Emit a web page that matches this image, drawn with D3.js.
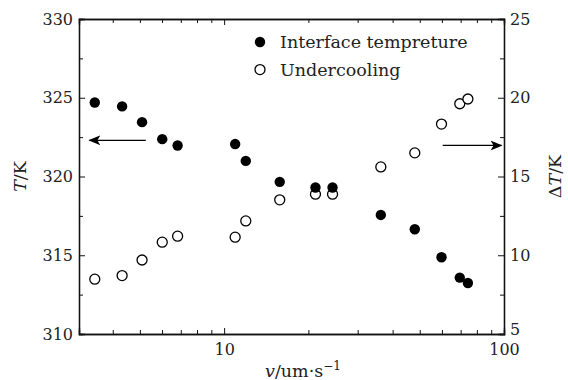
<!DOCTYPE html>
<html>
<head>
<meta charset="utf-8">
<script src="https://cdn.jsdelivr.net/npm/d3@7"></script>
<style>
  body { margin: 0; background: #fff; }
  svg { display: block; }
  .axis path, .axis line { stroke: #111; }
  .axis text { font-family: "DejaVu Serif", serif; font-size: 16px; fill: #222; }
</style>
</head>
<body>
<svg id="chart" width="568" height="380"></svg>
<script>
// velocity v (um/s)
const velocity = [3.45, 4.32, 5.09, 6.01, 6.82, 10.95, 11.95, 15.8, 21.2, 24.4, 36.3, 48.0, 59.8, 69.5, 74.3];
// interface temperature T (K)
const interfaceTemp = [324.70, 324.45, 323.45, 322.37, 321.97, 322.06, 320.99, 319.66, 319.30, 319.30, 317.56, 316.65, 314.87, 313.58, 313.24];
// undercooling ΔT (K)
const undercooling = [8.48, 8.71, 9.70, 10.83, 11.21, 11.15, 12.18, 13.52, 13.88, 13.88, 15.61, 16.50, 18.33, 19.62, 19.92];

const xMajor = [10, 100];
const xMinor = [4, 5, 6, 7, 8, 9, 20, 30, 40, 50, 60, 70, 80, 90];
const tMajor = [310, 315, 320, 325, 330];
const tMinor = [312.5, 317.5, 322.5, 327.5];
const dtMajor = [5, 10, 15, 20, 25];
const dtMinor = [7.5, 12.5, 17.5, 22.5];

const legendItems = ["Interface tempreture", "Undercooling"];

const margin = { top: 19, right: 64, bottom: 46, left: 79 };
const width = 568, height = 380;
const svg = d3.select("#chart");
const font = '"DejaVu Serif", serif';
const fs = 16;    // tick labels
const fsT = 17.5; // titles and legend

const x = d3.scaleLog().domain([3.03, 100]).range([margin.left, width - margin.right]);
const yT = d3.scaleLinear().domain([310, 330]).range([height - margin.bottom, margin.top]);
const yD = d3.scaleLinear().domain([5, 25]).range([height - margin.bottom, margin.top]);

const bottom = height - margin.bottom, right = width - margin.right;

// axes, ticks pointing inward
const addAxis = (axis, transform) =>
  svg.append("g").attr("class", "axis").attr("transform", transform).call(axis);

addAxis(d3.axisBottom(x).tickValues(xMajor).tickSize(-6).tickPadding(10).tickFormat(d3.format("d")), `translate(0,${bottom})`);
addAxis(d3.axisBottom(x).tickValues(xMinor).tickSize(-4).tickFormat(""), `translate(0,${bottom})`);
addAxis(d3.axisTop(x).tickValues(xMajor).tickSize(-6).tickFormat(""), `translate(0,${margin.top})`);
addAxis(d3.axisTop(x).tickValues(xMinor).tickSize(-4).tickFormat(""), `translate(0,${margin.top})`);
addAxis(d3.axisLeft(yT).tickValues(tMajor).tickSize(-6).tickPadding(6), `translate(${margin.left},0)`);
addAxis(d3.axisLeft(yT).tickValues(tMinor).tickSize(-4).tickFormat(""), `translate(${margin.left},0)`);
const rightAxis = addAxis(d3.axisRight(yD).tickValues(dtMajor).tickSize(-6).tickPadding(6), `translate(${right},0)`);
addAxis(d3.axisRight(yD).tickValues(dtMinor).tickSize(-4).tickFormat(""), `translate(${right},0)`);
svg.selectAll(".axis path").attr("stroke-width", 1.3);
svg.selectAll(".axis text").attr("font-size", fs);
// the bottom "5" sits a little high, clear of the "100"
rightAxis.selectAll(".tick text").filter((d) => d === 5).attr("dy", "0.05em");

// axis titles
const xt = svg.append("text")
  .attr("x", 303).attr("y", 377)
  .attr("text-anchor", "middle")
  .attr("font-family", font).attr("font-size", fsT).attr("fill", "#222");
xt.append("tspan").attr("font-style", "italic").text("v");
xt.append("tspan").text("/um·s");
xt.append("tspan").attr("font-size", 12).attr("dy", -7).text("−1");

const yl = svg.append("text")
  .attr("transform", `translate(26,${(margin.top + bottom) / 2}) rotate(-90)`)
  .attr("text-anchor", "middle")
  .attr("font-family", font).attr("font-size", fsT).attr("fill", "#222");
yl.append("tspan").attr("font-style", "italic").text("T");
yl.append("tspan").text("/K");

const yr = svg.append("text")
  .attr("transform", `translate(561,${(margin.top + bottom) / 2}) rotate(-90)`)
  .attr("text-anchor", "middle")
  .attr("font-family", font).attr("font-size", fsT).attr("fill", "#222");
yr.append("tspan").text("Δ");
yr.append("tspan").attr("font-style", "italic").text("T");
yr.append("tspan").text("/K");

// points
svg.append("g").selectAll("circle")
  .data(d3.zip(velocity, undercooling))
  .join("circle")
  .attr("cx", (d) => x(d[0])).attr("cy", (d) => yD(d[1]))
  .attr("r", 5).attr("fill", "#fff").attr("stroke", "#000").attr("stroke-width", 1.3);

svg.append("g").selectAll("circle")
  .data(d3.zip(velocity, interfaceTemp))
  .join("circle")
  .attr("cx", (d) => x(d[0])).attr("cy", (d) => yT(d[1]))
  .attr("r", 5.2).attr("fill", "#000");

// arrows pointing to the axes
svg.append("defs").append("marker")
  .attr("id", "head").attr("viewBox", "0 0 12 10")
  .attr("refX", 11).attr("refY", 5)
  .attr("markerWidth", 12).attr("markerHeight", 10)
  .attr("markerUnits", "userSpaceOnUse").attr("orient", "auto")
  .append("path").attr("d", "M0,0L12,5L0,10L3,5Z").attr("fill", "#000");

svg.append("line")
  .attr("x1", x(5.25)).attr("x2", x(3.3))
  .attr("y1", yT(322.3)).attr("y2", yT(322.3))
  .attr("stroke", "#000").attr("stroke-width", 1.3).attr("marker-end", "url(#head)");
svg.append("line")
  .attr("x1", x(60.4)).attr("x2", x(98))
  .attr("y1", yD(16.97)).attr("y2", yD(16.97))
  .attr("stroke", "#000").attr("stroke-width", 1.3).attr("marker-end", "url(#head)");

// legend
const legend = svg.append("g").attr("transform", "translate(260,42)");
const lg = legend.selectAll("g").data(legendItems).join("g")
  .attr("transform", (_, i) => `translate(0,${i * 27.6})`);
lg.append("circle")
  .attr("r", (_, i) => i ? 5 : 5.2)
  .attr("fill", (_, i) => i ? "#fff" : "#000")
  .attr("stroke", "#000").attr("stroke-width", (_, i) => i ? 1.3 : 0);
lg.append("text")
  .attr("x", 20).attr("y", 6)
  .attr("font-family", font).attr("font-size", fsT).attr("fill", "#222")
  .text((d) => d);
</script>
</body>
</html>
